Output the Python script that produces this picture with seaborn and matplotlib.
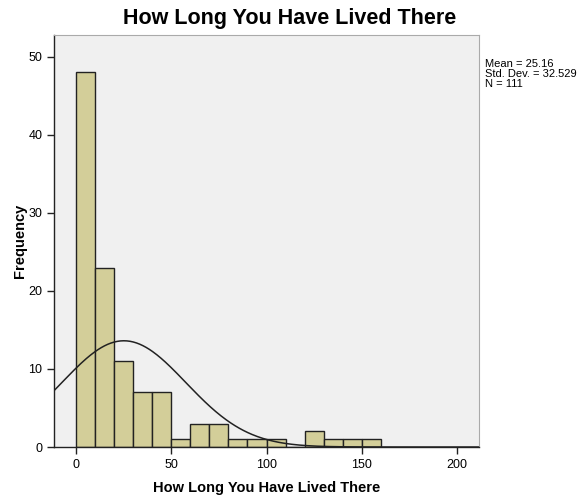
import numpy as np
import pandas as pd
import matplotlib
matplotlib.use("Agg")
import matplotlib.pyplot as plt
import seaborn as sns

# Histogram data (bin width 10)
bin_edges = [0, 10, 20, 30, 40, 50, 60, 70, 80, 90, 100, 110, 120, 130, 140, 150, 160]
counts = [48, 23, 11, 7, 7, 1, 3, 3, 1, 1, 1, 0, 2, 1, 1, 1]
mean_val = 25.16
std_val = 32.529
n_val = 111

bin_width = 10
centers = [(a + b) / 2 for a, b in zip(bin_edges[:-1], bin_edges[1:])]
df = pd.DataFrame({"years": centers, "count": counts})

sns.set_style("white")
plt.rcParams['font.family'] = ['Liberation Sans', 'DejaVu Sans']
plt.rcParams['text.color'] = 'black'

fig = plt.figure(figsize=(5.8, 4.97), dpi=100)
ax = fig.add_axes([0.0931, 0.1006, 0.7328, 0.829])
ax.set_facecolor('#F0F0F0')

sns.histplot(data=df, x="years", weights="count", bins=bin_edges, ax=ax,
             color='#D3CE99', edgecolor='#222222', linewidth=1, alpha=1)

# normal curve scaled to frequency
xs = np.linspace(-12, 212, 400)
ys = n_val * bin_width * np.exp(-0.5 * ((xs - mean_val) / std_val) ** 2) / (std_val * np.sqrt(2 * np.pi))
sns.lineplot(x=xs, y=ys, ax=ax, color='#222222', linewidth=1.1)

ax.set_xlim(-11.5, 211.5)
ax.set_ylim(0, 52.8)
ax.set_xticks([0, 50, 100, 150, 200])
ax.set_yticks([0, 10, 20, 30, 40, 50])
ax.tick_params(axis='both', direction='out', length=5, width=1, colors='#222222',
               labelcolor='black', labelsize=9, bottom=True, left=True)
for side in ['top', 'right']:
    ax.spines[side].set_color('#AAAAAA')
for side in ['left', 'bottom']:
    ax.spines[side].set_color('#222222')
    ax.spines[side].set_linewidth(1)

ax.set_xlabel("How Long You Have Lived There", fontsize=10.5, fontweight='bold',
              labelpad=7, color='black')
ax.set_ylabel("Frequency", fontsize=10.5, fontweight='bold', labelpad=1, color='black')

fig.text(0.5, 0.962, "How Long You Have Lived There", ha='center', va='center',
         fontsize=15.5, fontweight='bold', color='black')
fig.text(0.836, 0.851, f"Mean = {mean_val}\nStd. Dev. = {std_val}\nN = {n_val}",
         ha='left', va='center', fontsize=8, linespacing=1.05, color='black')

fig.savefig("out.png", dpi=100)
